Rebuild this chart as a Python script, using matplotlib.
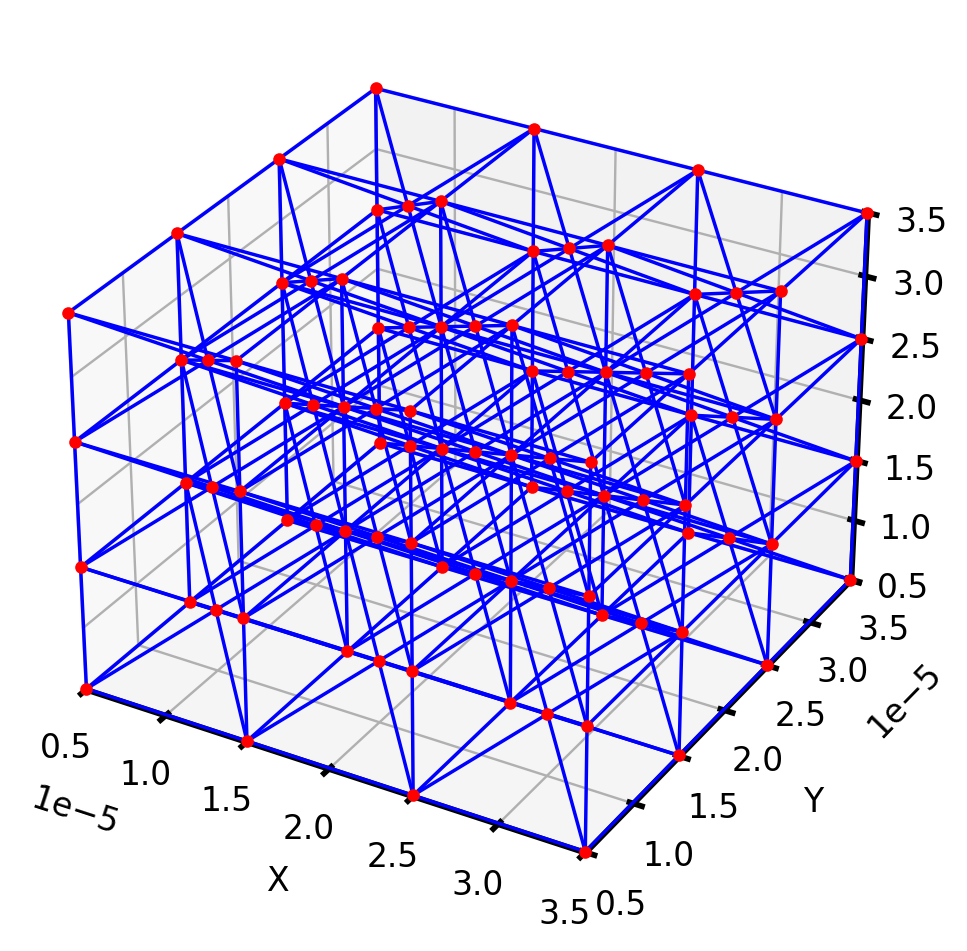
import matplotlib
matplotlib.use("Agg")
import matplotlib.pyplot as plt
import numpy as np

corner_levels = [0.5e-5, 1.5e-5, 2.5e-5, 3.5e-5]
center_levels = [1.0e-5, 2.0e-5, 3.0e-5]
tick_values = [0.5e-5, 1.0e-5, 1.5e-5, 2.0e-5, 2.5e-5, 3.0e-5, 3.5e-5]

DPI = 216
plt.rcParams['axes.linewidth'] = 1.9
plt.rcParams['xtick.major.width'] = 1.9
plt.rcParams['ytick.major.width'] = 1.9
plt.rcParams['font.size'] = 11

fig = plt.figure(figsize=(967 / DPI, 951 / DPI), dpi=DPI)
ax = fig.add_axes([0.01867, 0.0441, 0.9211, 0.9366], projection='3d')
ax.computed_zorder = False

segments = []
n = len(corner_levels)
for i in range(n):
    for j in range(n):
        for k in range(n):
            p = (corner_levels[i], corner_levels[j], corner_levels[k])
            if i + 1 < n:
                segments.append((p, (corner_levels[i + 1], p[1], p[2])))
            if j + 1 < n:
                segments.append((p, (p[0], corner_levels[j + 1], p[2])))
            if k + 1 < n:
                segments.append((p, (p[0], p[1], corner_levels[k + 1])))
m = len(center_levels)
centers = []
for i in range(m):
    for j in range(m):
        for k in range(m):
            c = (center_levels[i], center_levels[j], center_levels[k])
            centers.append(c)
            for a in (i, i + 1):
                for b in (j, j + 1):
                    for d in (k, k + 1):
                        segments.append((c, (corner_levels[a], corner_levels[b], corner_levels[d])))

for s, e in segments:
    ax.plot([s[0], e[0]], [s[1], e[1]], [s[2], e[2]], color='blue', lw=1.15, zorder=2)

nodes = [(x, y, z) for x in corner_levels for y in corner_levels for z in corner_levels] + centers
nodes = np.array(nodes)
ax.plot(nodes[:, 0], nodes[:, 1], nodes[:, 2], 'o', color='red', ms=4.2, mew=0, zorder=5)

ax.set_xlim(corner_levels[0], corner_levels[-1], view_margin=0.0015)
ax.set_ylim(corner_levels[0], corner_levels[-1], view_margin=0.0015)
ax.set_zlim(corner_levels[0], corner_levels[-1], view_margin=0.0015)
ax.set_xticks(tick_values)
ax.set_yticks(tick_values)
ax.set_zticks(tick_values)
ax.tick_params(axis='x', pad=2.4)
ax.tick_params(axis='y', pad=2.4)
ax.tick_params(axis='z', pad=2.8)
ax.set_xlabel('X', labelpad=5.6)
ax.set_ylabel('Y', labelpad=6.3)
ax.zaxis.get_offset_text().set_visible(False)

fig.savefig('out.png', dpi=DPI)
